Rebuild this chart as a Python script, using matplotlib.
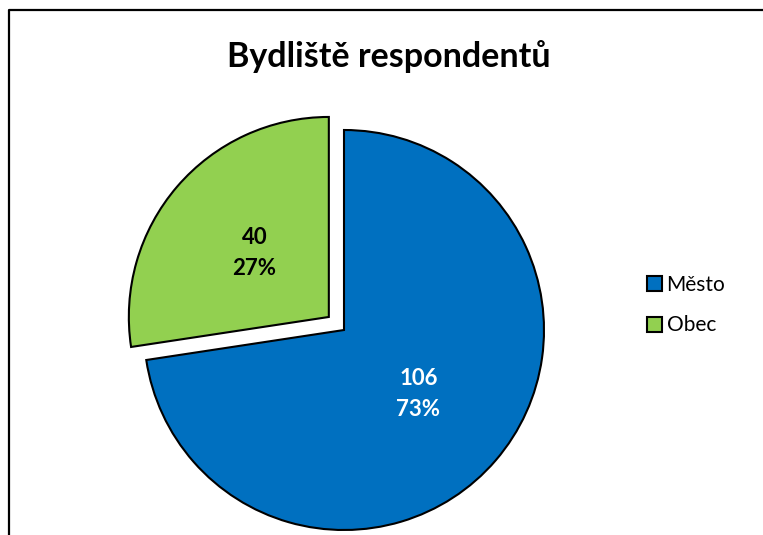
import matplotlib
matplotlib.use("Agg")
import matplotlib.pyplot as plt
from matplotlib.lines import Line2D
from matplotlib.patches import Patch

plt.rcParams['font.family'] = ['Lato', 'DejaVu Sans']

# Data
categories = ["Město", "Obec"]
values = [106, 40]
colors = ["#0070C0", "#92D050"]
label_colors = ["white", "black"]
title = "Bydliště respondentů"

W, H = 763, 535
fig = plt.figure(figsize=(W / 100, H / 100), dpi=100)

cx, cy, R = 344, 330, 200
half = R * 1.1
ax = fig.add_axes([(cx - half) / W, (H - (cy + half)) / H, 2 * half / W, 2 * half / H])

total = sum(values)

def fmt(p):
    return f"{round(p * total / 100):d}\n{p:.0f}%"

wedges, texts, autotexts = ax.pie(
    values, colors=colors, startangle=90, counterclock=False,
    explode=[0, 0.1], autopct=fmt, pctdistance=0.49,
    wedgeprops=dict(edgecolor="black", linewidth=1.5),
    textprops=dict(fontsize=16, fontweight="bold"),
)
for t, c in zip(autotexts, label_colors):
    t.set_color(c)
    t.set_linespacing(1.55)

ax.set_xlim(-1.1, 1.1)
ax.set_ylim(-1.1, 1.1)
ax.set_aspect("equal")
ax.axis("off")

handles = [Patch(facecolor=c, edgecolor="black", linewidth=1.5) for c in colors]
fig.legend(handles, categories, loc="center left",
           bbox_to_anchor=(628 / W, 1 - 305 / H), frameon=False,
           fontsize=15, handlelength=0.75, handleheight=0.75,
           handletextpad=0.2, labelspacing=1.0)

fig.text(389 / W, 1 - 57 / H, title, ha="center", va="center",
         fontsize=24.5, fontweight="bold")

# Chart-area frame (left and top edges visible)
fig.add_artist(Line2D([9 / W, 9 / W, 1], [0, 1 - 10 / H, 1 - 10 / H],
                      transform=fig.transFigure, color="black", linewidth=1.6))

fig.savefig("out.png", dpi=100)
